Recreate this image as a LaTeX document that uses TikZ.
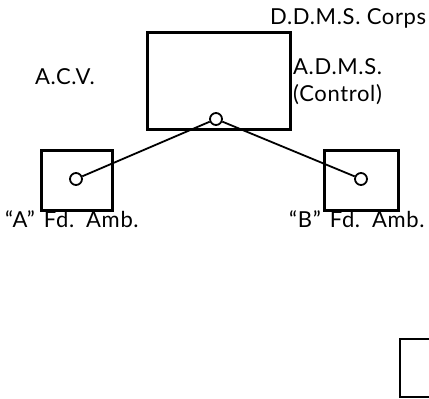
\documentclass[tikz,border=0pt]{standalone}
\usepackage{fontspec}
\setmainfont{Lato}[LetterSpace=3]
\usetikzlibrary{positioning}

\begin{document}
\begin{tikzpicture}[x=1pt, y=-1pt,
  every node/.style={font=\fontsize{22}{27}\selectfont, inner sep=0pt},
  unitbox/.style={draw, line width=2.8pt, minimum width=#1, anchor=north west},
  post/.style={draw, circle, line width=1.8pt, minimum size=12pt, fill=white},
  link/.style={line width=1.8pt}]
\useasboundingbox (0,0) rectangle (429,399);

% A.C.V. and its control post
\node[unitbox=143pt, minimum height=97pt] (acv) at (146,31) {};
\node[post] (adms) at (216,119) {};

% field ambulances
\node[unitbox=71pt, minimum height=60pt] (ambA) at (40,149) {};
\node[unitbox=74pt, minimum height=60pt] (ambB) at (323,149) {};
\node[post] (postA) at (76,179) {};
\node[post] (postB) at (361,179) {};

\draw[link] (adms) -- (postA);
\draw[link] (adms) -- (postB);

% labels
\node[anchor=west] (ddms) at (270,18) {D.D.M.S. Corps};
\node[anchor=west] (acvlbl) at (35,77) {A.C.V.\hspace{3pt}};
\node[anchor=north west, align=left] (admslbl) at (293,58) {A.D.M.S.\\(Control)};
\node[anchor=west] (lblA) at (5,219) {``A''\hspace{9pt}Fd.\hspace{12pt}Amb.};
\node[anchor=west] (lblB) at (289,219) {``B''\hspace{9pt}Fd.\hspace{12pt}Amb.};

% edge of next unit
\draw[line width=2.8pt] (432,339) -- (400,339) -- (400,397) -- (432,397);
\end{tikzpicture}
\end{document}
